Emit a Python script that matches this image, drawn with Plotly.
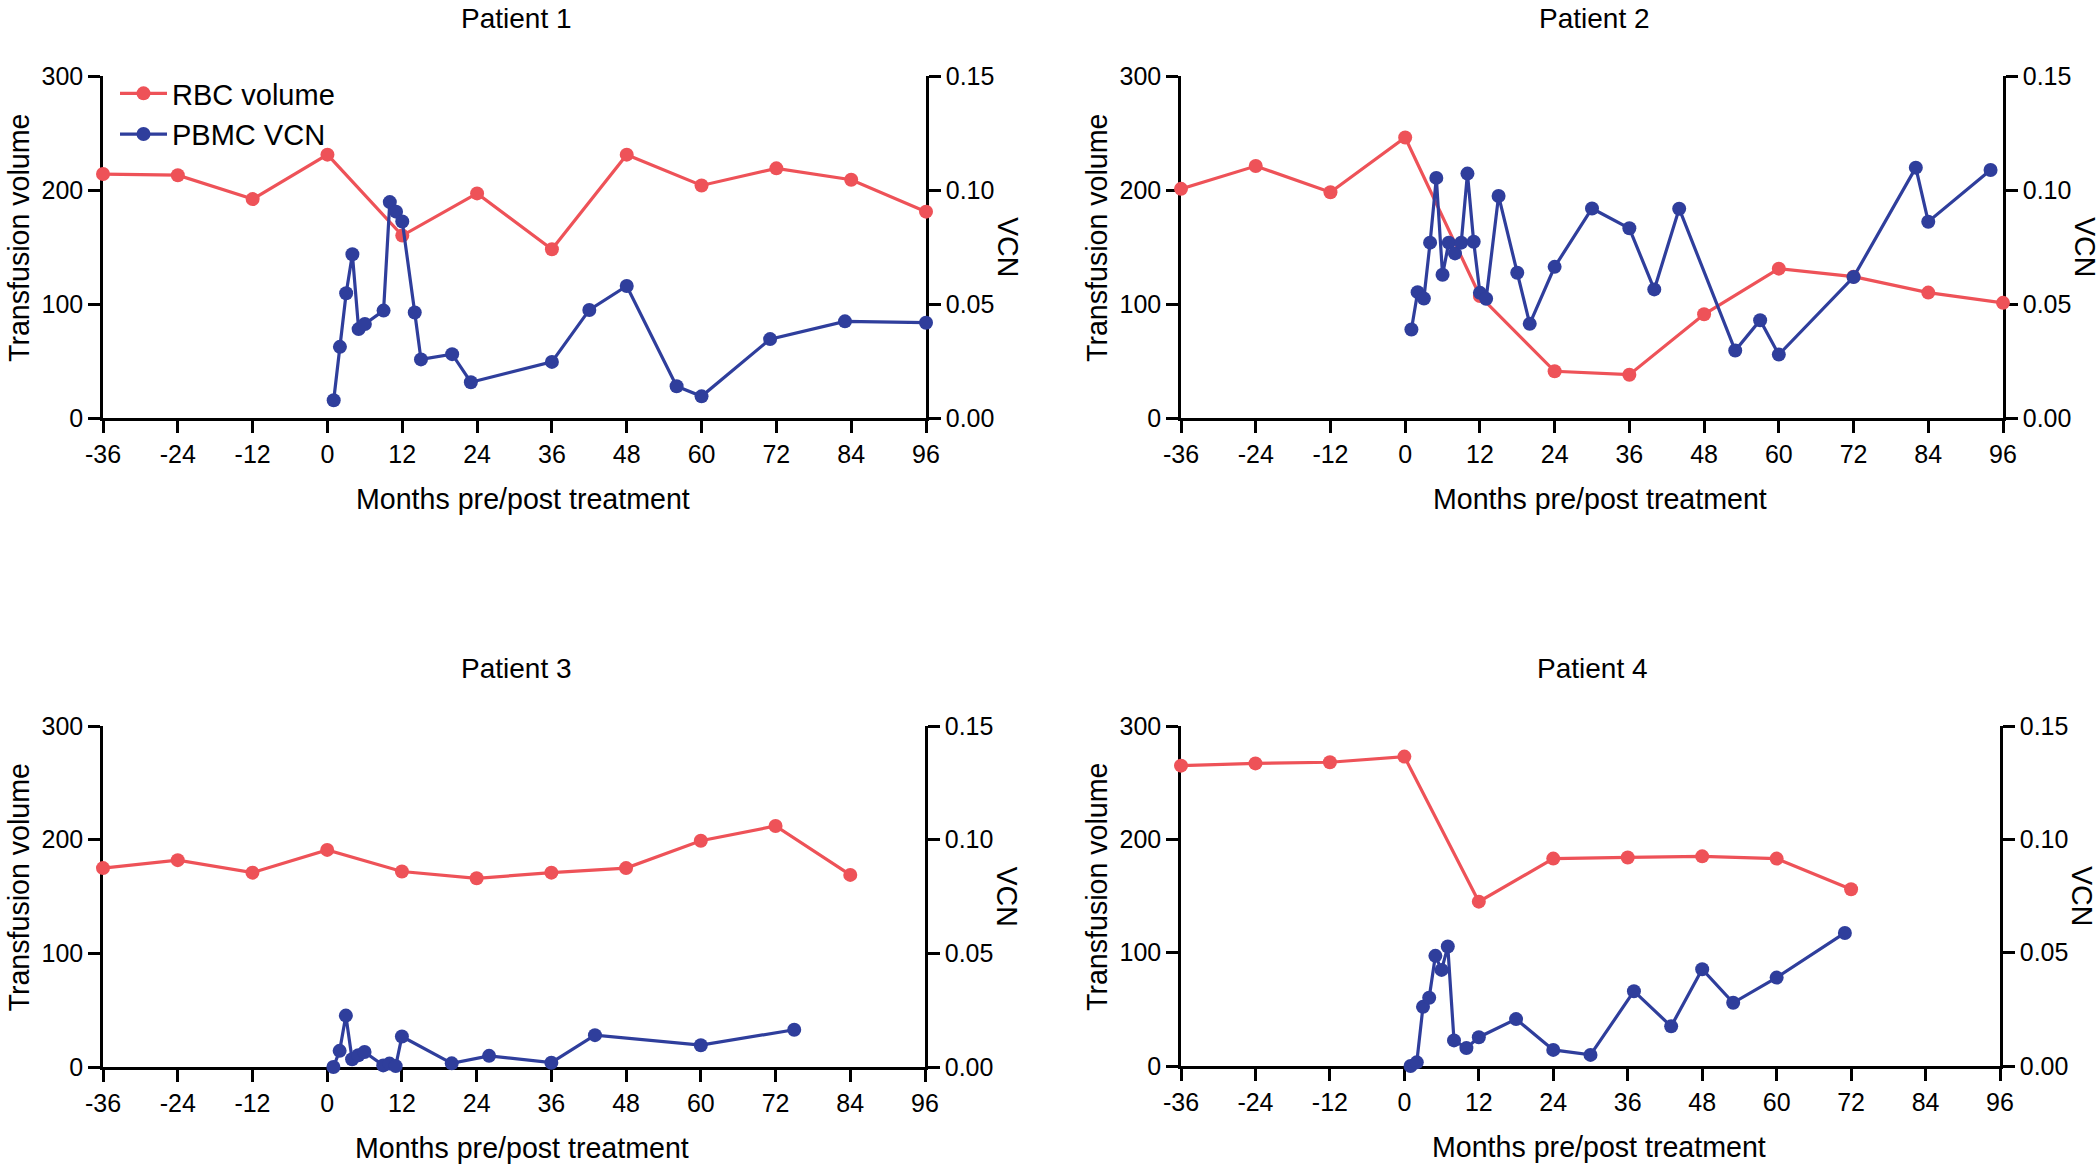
import plotly.graph_objects as go

# ---------------- data ----------------
tick_months = [-36, -24, -12, 0, 12, 24, 36, 48, 60, 72, 84, 96]
tick_rbc = [0, 100, 200, 300]
tick_vcn = [0.0, 0.05, 0.10, 0.15]
titles = ["Patient 1", "Patient 2", "Patient 3", "Patient 4"]

p1_rbc_months = [-36, -24, -12, 0, 12, 24, 36, 48, 60, 72, 84, 96]
p1_rbc = [214, 213, 192, 231, 160, 197, 148, 231, 204, 219, 209, 181]
p1_vcn_months = [1, 2, 3, 4, 5, 6, 9, 10, 11, 12, 14, 15, 20, 23, 36, 42, 48, 56, 60, 71, 83, 96]
p1_vcn = [0.0078, 0.0312, 0.0547, 0.0718, 0.0390, 0.0412, 0.0471, 0.0947, 0.0905, 0.0862, 0.0463,
          0.0257, 0.0280, 0.0157, 0.0246, 0.0474, 0.0579, 0.0139, 0.0095, 0.0346, 0.0424, 0.0418]

p2_rbc_months = [-36, -24, -12, 0, 12, 24, 36, 48, 60, 72, 84, 96]
p2_rbc = [201, 221, 198, 246, 107, 41, 38, 91, 131, 124, 110, 101]
p2_vcn_months = [1, 2, 3, 4, 5, 6, 7, 8, 9, 10, 11, 12, 13, 15, 18, 20, 24, 30, 36, 40, 44, 53, 57, 60, 72, 82, 84, 94]
p2_vcn = [0.0388, 0.0552, 0.0524, 0.0769, 0.1053, 0.0628, 0.0769, 0.0722, 0.0769, 0.1072, 0.0773, 0.0549,
          0.0523, 0.0974, 0.0637, 0.0413, 0.0663, 0.0919, 0.0832, 0.0564, 0.0918, 0.0296, 0.0429, 0.0278,
          0.0618, 0.1098, 0.0861, 0.1088]

p3_rbc_months = [-36, -24, -12, 0, 12, 24, 36, 48, 60, 72, 84]
p3_rbc = [175, 182, 171, 191, 172, 166, 171, 175, 199, 212, 169]
p3_vcn_months = [1, 2, 3, 4, 5, 6, 9, 10, 11, 12, 20, 26, 36, 43, 60, 75]
p3_vcn = [0.0, 0.0071, 0.0226, 0.0034, 0.0052, 0.0066, 0.0007, 0.0015, 0.0004, 0.0134, 0.0016, 0.0049,
          0.0019, 0.0140, 0.0096, 0.0164]

p4_rbc_months = [-36, -24, -12, 0, 12, 24, 36, 48, 60, 72]
p4_rbc = [265, 267, 268, 273, 145, 183, 184, 185, 183, 156]
p4_vcn_months = [1, 2, 3, 4, 5, 6, 7, 8, 10, 12, 18, 24, 30, 37, 43, 48, 53, 60, 71]
p4_vcn = [0.0, 0.0016, 0.0261, 0.0301, 0.0486, 0.0424, 0.0527, 0.0113, 0.0079, 0.0127, 0.0207, 0.0071,
          0.0049, 0.0330, 0.0175, 0.0427, 0.0279, 0.0390, 0.0587]

rbc_months = [p1_rbc_months, p2_rbc_months, p3_rbc_months, p4_rbc_months]
rbc_vals = [p1_rbc, p2_rbc, p3_rbc, p4_rbc]
vcn_months = [p1_vcn_months, p2_vcn_months, p3_vcn_months, p4_vcn_months]
vcn_vals = [p1_vcn, p2_vcn, p3_vcn, p4_vcn]

# ---------------- style / layout ----------------
W, H = 2100, 1167
FONT = "Liberation Sans, Arial, Helvetica, sans-serif"
RED = "#EE5258"
BLUE = "#2F3E9C"
# plot areas in pixels: (left, right, top, bottom)
areas = [(103, 926, 76, 418), (1181, 2003, 76, 418), (103, 925, 726, 1067), (1181, 2000, 726, 1066)]

fig = go.Figure()
layout = dict(
    width=W, height=H, margin=dict(l=0, r=0, t=0, b=0, autoexpand=False),
    paper_bgcolor="white", plot_bgcolor="rgba(0,0,0,0)",
    font=dict(family=FONT, color="black", size=25),
    showlegend=True,
    legend=dict(x=115 / W, y=1 - 68 / H, xanchor="left", yanchor="top",
                bgcolor="rgba(0,0,0,0)", font=dict(size=29, family=FONT),
                itemwidth=47, tracegroupgap=0),
)
annotations = []

axis_common = dict(showline=True, linecolor="black", linewidth=2.5, ticks="outside",
                   ticklen=12, tickwidth=2.5, tickcolor="black", showgrid=False,
                   zeroline=False, layer="below traces", tickfont=dict(size=25, family=FONT),
                   automargin=False)

for i in range(4):
    l, r, t, b = areas[i]
    xn = "x" if i == 0 else f"x{i + 1}"
    yl = 2 * i + 1
    yr = 2 * i + 2
    yln = "y" if yl == 1 else f"y{yl}"
    yrn = f"y{yr}"
    xkey = "xaxis" if i == 0 else f"xaxis{i + 1}"
    ylkey = "yaxis" if yl == 1 else f"yaxis{yl}"
    yrkey = f"yaxis{yr}"
    xdom = [l / W, r / W]
    ydom = [1 - b / H, 1 - t / H]
    layout[xkey] = dict(domain=xdom, range=[-36, 96], anchor=yln, tickvals=tick_months,
                        ticktext=[str(v) for v in tick_months], **axis_common)
    layout[ylkey] = dict(domain=ydom, range=[0, 300], anchor=xn, tickvals=tick_rbc, side="left",
                         **axis_common)
    layout[yrkey] = dict(range=[0, 0.15], anchor=xn, overlaying=yln, side="right",
                         tickvals=tick_vcn, tickformat=".2f", **axis_common)

    fig.add_trace(go.Scatter(x=rbc_months[i], y=rbc_vals[i], xaxis=xn, yaxis=yln,
                             mode="lines+markers", name="RBC volume", showlegend=(i == 0),
                             line=dict(color=RED, width=3.2), marker=dict(color=RED, size=14),
                             cliponaxis=False))
    fig.add_trace(go.Scatter(x=vcn_months[i], y=vcn_vals[i], xaxis=xn, yaxis=yrn,
                             mode="lines+markers", name="PBMC VCN", showlegend=(i == 0),
                             line=dict(color=BLUE, width=3.2), marker=dict(color=BLUE, size=14),
                             cliponaxis=False))

    cx_px = (l + r) / 2
    cy_mid = (t + b) / 2
    annotations.append(dict(text=titles[i], x=(cx_px + 2) / W, y=1 - (t - 58) / H, xref="paper",
                            yref="paper", xanchor="center", yanchor="middle", showarrow=False,
                            font=dict(size=28, family=FONT)))
    annotations.append(dict(text="Months pre/post treatment", x=(cx_px + 8) / W, y=1 - (b + 81) / H,
                            xref="paper", yref="paper", xanchor="center", yanchor="middle",
                            showarrow=False, font=dict(size=28.6, family=FONT)))
    annotations.append(dict(text="Transfusion volume", x=(l - 84) / W, y=1 - (cy_mid - 9) / H,
                            xref="paper", yref="paper", xanchor="center", yanchor="middle",
                            textangle=-90, showarrow=False, font=dict(size=28.6, family=FONT)))
    annotations.append(dict(text="VCN", x=(r + 82) / W, y=1 - cy_mid / H,
                            xref="paper", yref="paper", xanchor="center", yanchor="middle",
                            textangle=90, showarrow=False, font=dict(size=28.6, family=FONT)))

layout["annotations"] = annotations
fig.update_layout(**layout)
fig.write_html("out.html", config={"displayModeBar": False},
               post_script="document.body.style.margin='0px';document.body.style.padding='0px';")
